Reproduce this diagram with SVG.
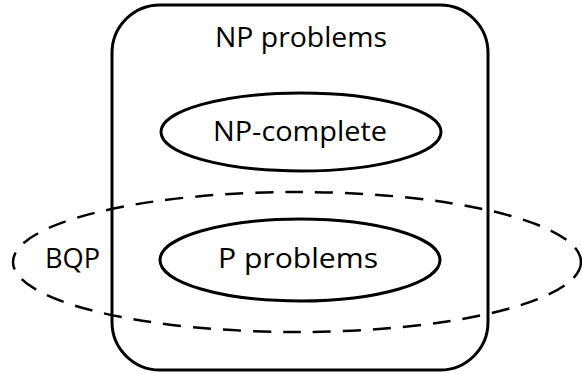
<svg xmlns="http://www.w3.org/2000/svg" width="582" height="374" viewBox="0 0 582 374">
<style>
.s{fill:none;stroke:#000;stroke-width:3}
.d{fill:none;stroke:#000;stroke-width:2.5;stroke-dasharray:18 12}
text{font-family:"Open Sans","Noto Sans",sans-serif;font-size:28px;fill:#000;text-anchor:middle}
</style>
<rect width="582" height="374" fill="#fff"/>
<g id="np"><rect class="s" x="112" y="5" width="376" height="365" rx="48" ry="48"/><text x="301" y="47" textLength="172" lengthAdjust="spacingAndGlyphs">NP problems</text></g>
<g id="npc"><ellipse class="s" cx="301" cy="132" rx="140" ry="39"/><text x="300" y="141" textLength="174" lengthAdjust="spacingAndGlyphs">NP-complete</text></g>
<g id="p"><ellipse class="s" cx="300" cy="260" rx="140" ry="41"/><text x="298" y="268" textLength="160" lengthAdjust="spacingAndGlyphs">P problems</text></g>
<g id="bqp"><ellipse class="d" cx="297" cy="262" rx="284" ry="70"/><text x="72.5" y="268" textLength="55" lengthAdjust="spacingAndGlyphs">BQP</text></g>
<g id="connectors"/>
</svg>
